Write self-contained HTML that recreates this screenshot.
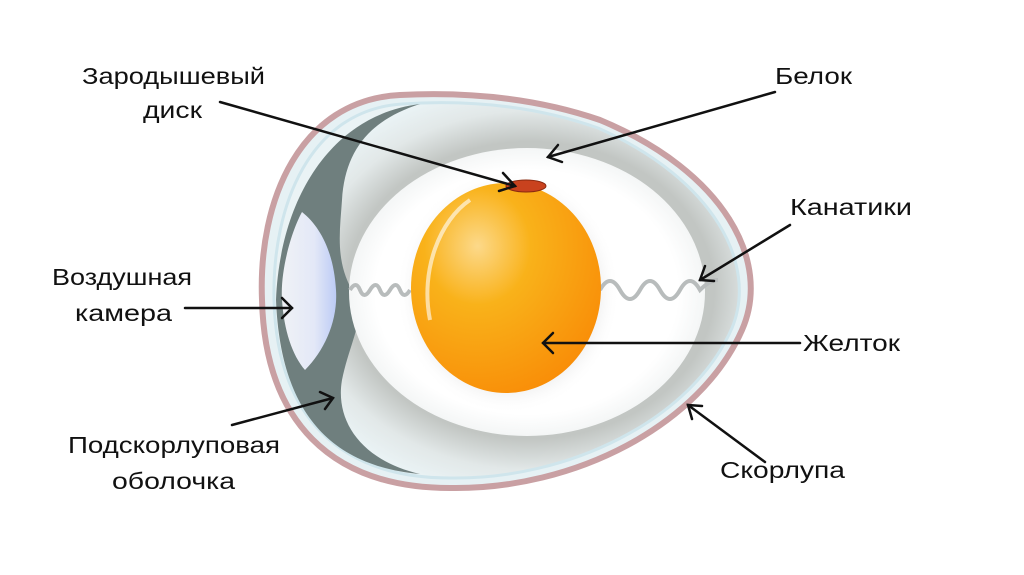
<!DOCTYPE html>
<html><head><meta charset="utf-8"><style>
html,body{margin:0;padding:0;background:#fff;}
svg{display:block;}
text{font-family:"Liberation Sans",sans-serif;font-size:23px;fill:#111;}
</style></head><body>
<svg width="1024" height="575" viewBox="0 0 1024 575" xmlns="http://www.w3.org/2000/svg">
<defs>
<radialGradient id="alb" cx="0.55" cy="0.5" r="0.55">
<stop offset="0.72" stop-color="#c2c6c3"/><stop offset="0.87" stop-color="#e2e8e8"/><stop offset="1" stop-color="#eaf3f5"/>
</radialGradient>
<radialGradient id="white" cx="0.5" cy="0.5" r="0.5">
<stop offset="0.85" stop-color="#ffffff"/><stop offset="1" stop-color="#f4f6f6"/>
</radialGradient>
<radialGradient id="yolk" cx="0.35" cy="0.3" r="0.8">
<stop offset="0" stop-color="#fcd98a"/><stop offset="0.35" stop-color="#f9b21a"/><stop offset="1" stop-color="#f98a06"/>
</radialGradient>
<radialGradient id="ysh" cx="0.5" cy="0.5" r="0.5">
<stop offset="0.6" stop-color="#c8c8c8"/><stop offset="1" stop-color="#ffffff" stop-opacity="0"/>
</radialGradient>
<linearGradient id="air" x1="0" x2="1">
<stop offset="0" stop-color="#f0f2f6"/><stop offset="0.6" stop-color="#e3e8f7"/><stop offset="1" stop-color="#bccbf5"/>
</linearGradient>
</defs>
<path d="M400 95 C300 100 258 200 262 300 C265 420 330 488 450 488 C575 490 700 425 742 330 C772 262 725 172 600 120 C530 96 460 92 400 95 Z" fill="#e6f1f4" stroke="#c9a0a3" stroke-width="6"/>
<path d="M402 104 C310 110 272 205 274 300 C277 415 338 478 450 478 C568 480 692 420 732 328 C758 265 715 180 598 128 C530 104 462 100 402 104 Z" fill="url(#alb)" stroke="#cfe5ec" stroke-width="3"/>
<path d="M420 104 C330 115 280 200 276 300 C280 400 320 465 420 474 C360 460 335 420 342 380 C350 340 370 310 352 290 C335 260 340 230 342 200 C345 150 370 120 420 104 Z" fill="#6f7f7e"/>
<path d="M302 212 C292 230 280 270 282 300 C284 330 292 355 305 370 C325 350 338 320 336 290 C334 255 322 228 302 212 Z" fill="url(#air)"/>
<ellipse cx="527" cy="292" rx="178" ry="144" fill="url(#white)"/>
<ellipse cx="508" cy="292" rx="112" ry="122" fill="url(#ysh)"/>
<path d="M350 290 q6 -10 10 0 t10 0 t10 0 t10 0 t10 0 t10 0" fill="none" stroke="#b8bcbc" stroke-width="4"/>
<path d="M600 290 q10 -18 20 0 t20 0 t20 0 t20 0 t20 0 q10 -10 18 -10" fill="none" stroke="#b8bcbc" stroke-width="4"/>
<ellipse cx="506" cy="288" rx="95" ry="105" fill="url(#yolk)"/>
<path d="M430 320 C420 270 440 220 470 200" fill="none" stroke="#fff" stroke-opacity="0.6" stroke-width="4"/>
<ellipse cx="526" cy="186" rx="20" ry="6" fill="#c9421e" stroke="#8a2a10"/>
<g stroke="#111" stroke-width="2.5" fill="none" stroke-linecap="round">
<line x1="220" y1="102" x2="515" y2="186"/><polyline points="503,173 515,186 499,191"/>
<line x1="775" y1="92" x2="548" y2="157"/><polyline points="558,145 548,157 562,162"/>
<line x1="790" y1="225" x2="700" y2="280"/><polyline points="705,266 700,280 714,281"/>
<line x1="185" y1="308" x2="292" y2="308"/><polyline points="282,298 292,308 282,318"/>
<line x1="800" y1="343" x2="543" y2="343"/><polyline points="553,333 543,343 553,353"/>
<line x1="232" y1="425" x2="333" y2="398"/><polyline points="320,392 333,398 325,409"/>
<line x1="765" y1="462" x2="688" y2="405"/><polyline points="692,419 688,405 702,406"/>
</g>
<text x="82" y="84" textLength="183" lengthAdjust="spacingAndGlyphs">Зародышевый</text>
<text x="143" y="118" textLength="59" lengthAdjust="spacingAndGlyphs">диск</text>
<text x="775" y="84" textLength="77" lengthAdjust="spacingAndGlyphs">Белок</text>
<text x="790" y="215" textLength="122" lengthAdjust="spacingAndGlyphs">Канатики</text>
<text x="52" y="285" textLength="140" lengthAdjust="spacingAndGlyphs">Воздушная</text>
<text x="75" y="321" textLength="97" lengthAdjust="spacingAndGlyphs">камера</text>
<text x="803" y="351" textLength="97" lengthAdjust="spacingAndGlyphs">Желток</text>
<text x="68" y="453" textLength="212" lengthAdjust="spacingAndGlyphs">Подскорлуповая</text>
<text x="112" y="489" textLength="123" lengthAdjust="spacingAndGlyphs">оболочка</text>
<text x="720" y="478" textLength="125" lengthAdjust="spacingAndGlyphs">Скорлупа</text>
</svg>
</body></html>
